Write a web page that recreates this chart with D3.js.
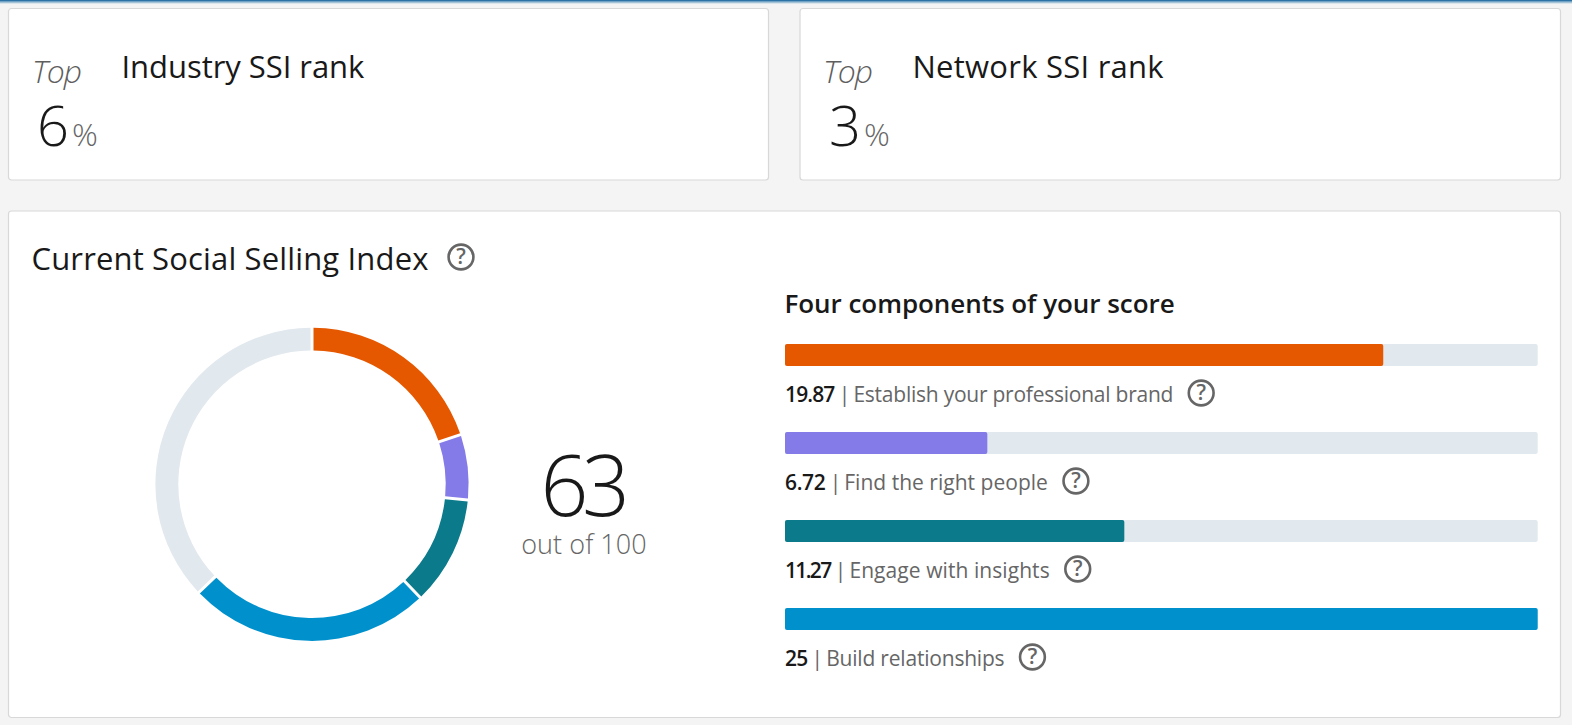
<!DOCTYPE html>
<html><head><meta charset="utf-8">
<script src="https://cdn.jsdelivr.net/npm/d3@7"></script>
<style>
html,body{margin:0;padding:0;background:#f4f4f4;overflow:hidden}
svg{display:block}
text{font-family:"Open Sans","Noto Sans",sans-serif}
</style></head><body><div id="c"></div>
<script>
const components=["Establish your professional brand","Find the right people","Engage with insights","Build relationships"];
const scoreLabels=["19.87","6.72","11.27","25"];
const scores=[19.87,6.72,11.27,25];
const colors=["#e65800","#847be8","#0b7a8a","#0091cd"];
const componentMax=25, total=100, totalScore=63;
const rankTitles=["Industry SSI rank","Network SSI rank"];
const rankValues=[6,3];
const trackColor="#e1e8ee", ink="#191919", muted="#666666";
const scoreTrack=[-.85,-.35,-1.65,-.85], nameTrack=[-.24,.02,.07,-.2], titleTrack=[-.05,.25];

const svg=d3.select("#c").append("svg").attr("width",1572).attr("height",725);
const defs=svg.append("defs");
const f=defs.append("linearGradient").attr("id","top").attr("x1",0).attr("x2",0).attr("y1",0).attr("y2",1);
f.append("stop").attr("offset",0).attr("stop-color","#0a5a94");
f.append("stop").attr("offset",.35).attr("stop-color","#6b9fc2");
f.append("stop").attr("offset",1).attr("stop-color","#f4f4f4");
svg.append("rect").attr("width",1572).attr("height",4).attr("fill","url(#top)");

function card(x,y,w,h){
  svg.append("rect").attr("x",x).attr("y",y).attr("width",w).attr("height",h).attr("rx",3).attr("fill","#fff").attr("stroke","#d8d8d8").attr("stroke-width",1.2);
}
function txt(x,y,s,size,fill,opt={}){
  return svg.append("text").attr("x",x).attr("y",y).text(s).attr("font-size",size).attr("fill",fill)
    .attr("font-weight",opt.w||400).attr("font-style",opt.i?"italic":"normal")
    .attr("letter-spacing",opt.ls||0).attr("text-anchor",opt.a||"start");
}
function help(cx,cy){
  svg.append("circle").attr("cx",cx).attr("cy",cy).attr("r",12.4).attr("fill","none").attr("stroke",muted).attr("stroke-width",2.6);
  txt(cx,cy+7.4,"?",21,muted,{a:"middle",w:600});
}

card(8.5,8.5,760,171.5); card(800,8.5,760.5,171.5); card(8.5,211,1552,506.5);
rankValues.forEach((v,i)=>{
  const dx=i*790;
  txt(32+dx+i,82.5,"Top",32,"#5e5e5e",{i:true,w:300,ls:-1});
  txt(37+dx+i*2,145.5,v,56,ink,{w:300,ls:-1});
  txt(72+dx+i*2,145.5,"%",32,muted,{w:300});
  txt(121.5+dx+i,77.5,rankTitles[i],31,ink,{ls:titleTrack[i]});
});
txt(31.5,269.5,"Current Social Selling Index",31,ink,{ls:.15});
help(461,257);

// donut
const cx=312,cy=484.3;
const g=svg.append("g").attr("transform",`translate(${cx},${cy})`);
const rest=total-d3.sum(scores);
const pie=d3.pie().sort(null).value(d=>d.v);
const arc=d3.arc().innerRadius(133.7).outerRadius(156.6).padAngle(.0207).padRadius(145);
g.selectAll("path").data(pie([...scores.map((v,i)=>({v,c:colors[i]})),{v:rest,c:trackColor}]))
 .join("path").attr("d",arc).attr("fill",d=>d.data.c);
txt(582,516,totalScore,84,ink,{a:"middle",w:300,ls:-6.5});
txt(584,554,"out of 100",27,muted,{a:"middle",w:300,ls:.05});

// bars
txt(784.5,313,"Four components of your score",26,ink,{w:600,ls:-.05});
const xb=d3.scaleLinear().domain([0,componentMax]).range([785,1537.7]);
const yb=d3.scaleBand().domain(components).range([344,696]).paddingInner(0).paddingOuter(0);
components.forEach((c,i)=>{
  const y=yb(c);
  svg.append("rect").attr("x",xb(0)).attr("y",y).attr("width",xb(componentMax)-xb(0)).attr("height",22).attr("rx",2).attr("fill",trackColor);
  svg.append("rect").attr("x",xb(0)).attr("y",y).attr("width",xb(scores[i])-xb(0)).attr("height",22).attr("rx",2).attr("fill",colors[i]);
  const t=svg.append("text").attr("x",785).attr("y",y+58).attr("font-size",21);
  t.append("tspan").text(scoreLabels[i]).attr("fill",ink).attr("font-weight",600).attr("letter-spacing",scoreTrack[i]);
  t.append("tspan").text(" | ").attr("fill",muted).attr("letter-spacing",-1.2);
  t.append("tspan").text(c).attr("fill",muted).attr("letter-spacing",nameTrack[i]);
  help(785+t.node().getComputedTextLength()+28,y+49);
});
</script></body></html>
